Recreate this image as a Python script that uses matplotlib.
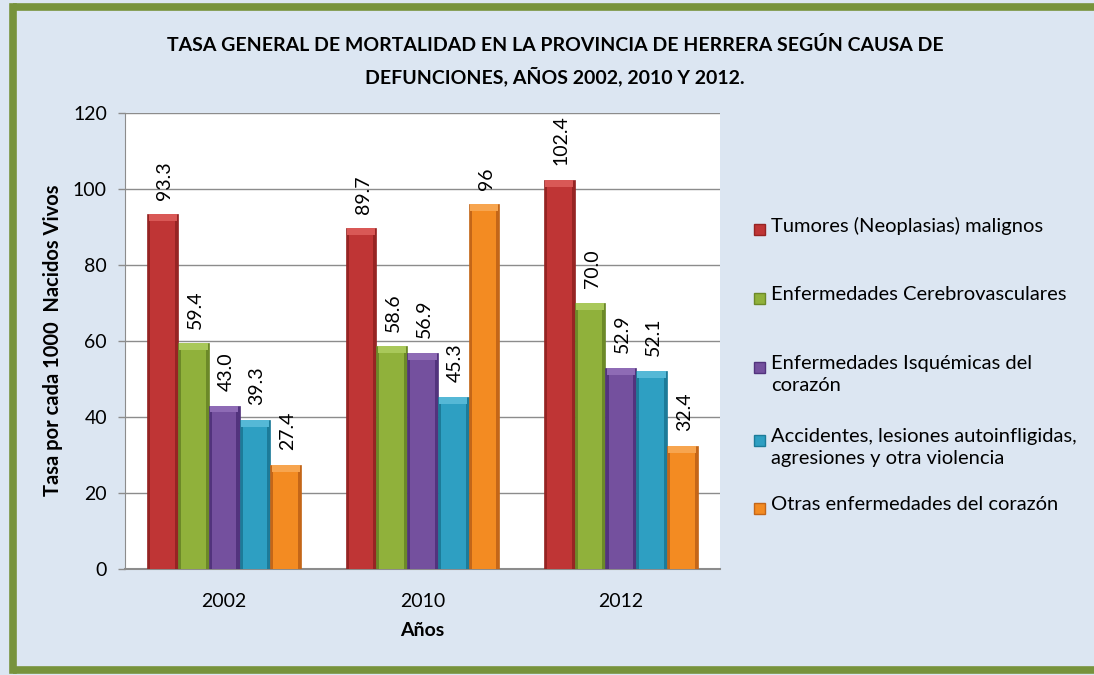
import matplotlib
matplotlib.use("Agg")
import matplotlib.pyplot as plt
import numpy as np
from matplotlib.patches import Rectangle
from matplotlib.lines import Line2D

plt.rcParams['font.family'] = ['Lato', 'DejaVu Sans']

years = ["2002", "2010", "2012"]
series_names = [
    "Tumores (Neoplasias) malignos",
    "Enfermedades Cerebrovasculares",
    "Enfermedades Isquémicas del\ncorazón",
    "Accidentes, lesiones autoinfligidas,\nagresiones y otra violencia",
    "Otras enfermedades del corazón",
]
tumores = [93.3, 89.7, 102.4]
cerebro = [59.4, 58.6, 70.0]
isquemicas = [43.0, 56.9, 52.9]
accidentes = [39.3, 45.3, 52.1]
otras = [27.4, 96.0, 32.4]
labels_tumores = ["93.3", "89.7", "102.4"]
labels_cerebro = ["59.4", "58.6", "70.0"]
labels_isquemicas = ["43.0", "56.9", "52.9"]
labels_accidentes = ["39.3", "45.3", "52.1"]
labels_otras = ["27.4", "96", "32.4"]

series = [tumores, cerebro, isquemicas, accidentes, otras]
series_labels = [labels_tumores, labels_cerebro, labels_isquemicas, labels_accidentes, labels_otras]
base = ["#BF3535", "#90B13B", "#74509E", "#2E9FC2", "#F38B22"]
dark = ["#962423", "#6C8928", "#52337D", "#1C7B99", "#C46618"]
light = ["#D95856", "#A9C85A", "#8E6BB5", "#55B8D6", "#F7A54F"]

W, H = 1094, 675
fig = plt.figure(figsize=(W / 100, H / 100), dpi=100)
fig.patch.set_facecolor("#DCE6F2")
fig.patch.set_linewidth(0)

# green frame: left, top and bottom edges (the right edge lies outside the picture)
green = "#77933C"
lw = 5.5
fx0, fy_top, fy_bot = 12.5, 6.5, 669.5
fig.add_artist(Line2D([fx0 / W, fx0 / W], [1 - fy_top / H, 1 - fy_bot / H], color=green, linewidth=lw,
                      transform=fig.transFigure, solid_capstyle="projecting"))
fig.add_artist(Line2D([fx0 / W, 1.0], [1 - fy_top / H, 1 - fy_top / H], color=green, linewidth=lw,
                      transform=fig.transFigure, solid_capstyle="butt"))
fig.add_artist(Line2D([fx0 / W, 1.0], [1 - fy_bot / H, 1 - fy_bot / H], color=green, linewidth=lw,
                      transform=fig.transFigure, solid_capstyle="butt"))

L, R, T, B = 125, 720, 113, 569
ax = fig.add_axes([L / W, (H - B) / H, (R - L) / W, (B - T) / H])
ax.set_facecolor("white")

x = np.arange(len(years))
n = len(series)
bw = 0.155
bev = 1.8
for i, (vals, labs) in enumerate(zip(series, series_labels)):
    pos = x + (i - (n - 1) / 2) * bw
    vals = np.array(vals)
    bars = ax.bar(pos, vals, width=bw, color=dark[i], edgecolor=dark[i], linewidth=0.5, zorder=3)
    ax.bar(pos, vals - bev, width=bw * 0.8, color=base[i], linewidth=0, zorder=4)
    ax.bar(pos, bev, bottom=vals - bev, width=bw * 0.92, color=light[i], linewidth=0, zorder=4)
    for b, lab in zip(bars, labs):
        ax.annotate(lab, (b.get_x() + b.get_width() / 2, b.get_height()),
                    xytext=(1.5, 10.5), textcoords="offset points", rotation=90,
                    ha="center", va="bottom", fontsize=14, color="black")

ax.set_ylim(0, 120)
ax.set_xlim(-0.5, 2.5)
ax.set_yticks(np.arange(0, 121, 20))
ax.set_xticks(x)
ax.set_xticklabels(years)
ax.tick_params(axis="y", labelsize=14, length=5, width=1, color="#8C8C8C", pad=8)
ax.tick_params(axis="x", labelsize=14, length=0, pad=17)
ax.yaxis.grid(True, color="#8C8C8C", linewidth=1, zorder=0)
ax.set_axisbelow(True)
for s in ["top", "right"]:
    ax.spines[s].set_visible(False)
ax.spines["left"].set_color("#8C8C8C")
ax.spines["bottom"].set_color("#8C8C8C")
ax.spines["bottom"].set_linewidth(1.5)

ax.set_xlabel("Años", fontsize=14, fontweight="bold")
ax.xaxis.set_label_coords(0.5, (B - 622) / (B - T))
ax.set_ylabel("Tasa por cada 1000  Nacidos Vivos", fontsize=14.5, fontweight="bold")
ax.yaxis.set_label_coords((63 - L) / (R - L), (B - 340) / (B - T))

fig.text(555 / W, 1 - 45 / H, "TASA GENERAL DE MORTALIDAD EN LA PROVINCIA DE HERRERA SEGÚN CAUSA DE",
         ha="center", va="center", fontsize=14, fontweight="bold")
fig.text(555 / W, 1 - 76 / H, "DEFUNCIONES, AÑOS 2002, 2010 Y 2012.",
         ha="center", va="center", fontsize=14, fontweight="bold")

# legend (manual layout to match the uneven spacing of the original)
leg_y = [229, 298, 367, 440, 508]
for i, name in enumerate(series_names):
    y = leg_y[i]
    fig.patches.append(Rectangle((754 / W, 1 - (y + 5.5) / H), 11 / W, 11 / H,
                                 transform=fig.transFigure, facecolor=base[i],
                                 edgecolor=dark[i], linewidth=1))
    fig.text(771 / W, 1 - (y - 12) / H, name, ha="left", va="top", fontsize=14.5,
             linespacing=1.38)

fig.savefig("out.png", dpi=100, facecolor=fig.get_facecolor())
